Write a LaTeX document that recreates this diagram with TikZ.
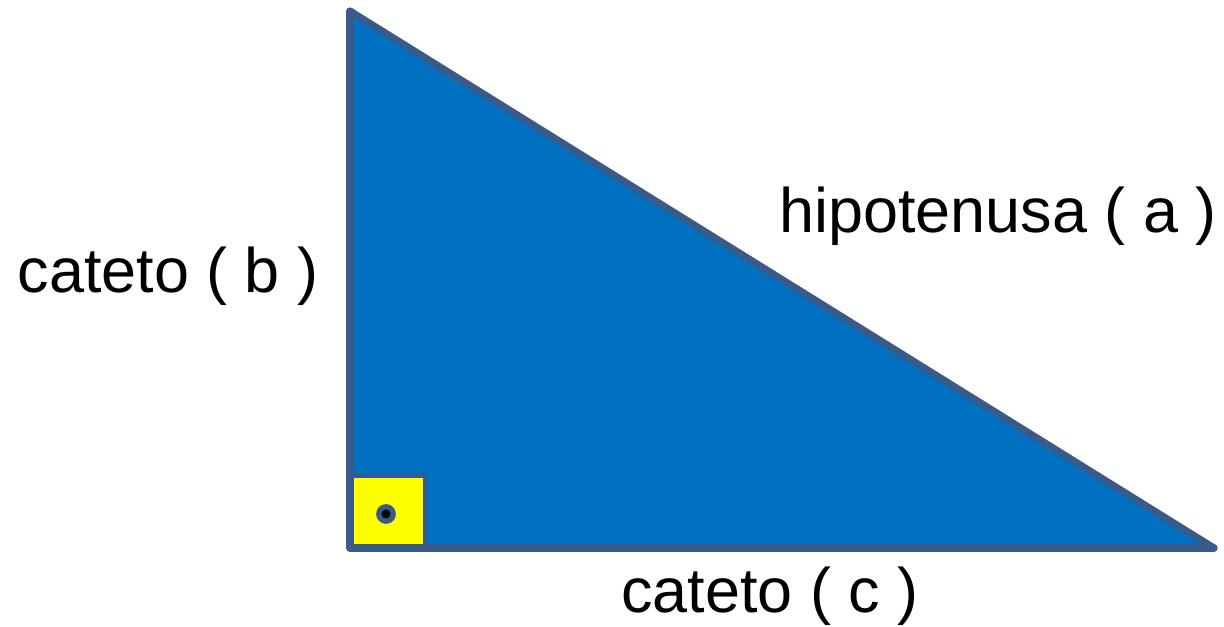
\documentclass[tikz,border=0pt]{standalone}
\usepackage{fontspec}
\setmainfont{Liberation Sans}
\definecolor{trifill}{HTML}{0070C0}
\definecolor{triline}{HTML}{3A5A8A}
\definecolor{angfill}{HTML}{FFFF00}
\begin{document}
\begin{tikzpicture}[line join=round, line cap=round,
	lbl/.style={anchor=base, inner sep=0pt, font=\fontsize{17.9}{21}\selectfont}]
				\useasboundingbox (0,0) rectangle (12.24,6.26);
				\path 
				(3.50,6.15) coordinate (A)
				(3.50,0.78) coordinate (B)
				(12.14,0.78) coordinate (C)
				(4.25,1.50) coordinate (S)
				(3.86,1.12) coordinate (O)
				;
				\draw[triline, fill=trifill, line width=2pt] (A)--(B)--(C)--cycle;
				\draw[triline, fill=angfill, line width=1.1pt] (B) rectangle (S);
				\draw[triline, fill=black, line width=1.5pt] (O) circle (0.072);
				\draw[triline, line width=2pt] (A)--(B)--(C);
				
				\node[lbl] (b) at (1.68,3.34) {cateto ( b )};
				\node[lbl] (a) at (9.98,3.94) {hipotenusa ( a )};
				\node[lbl] (c) at (7.70,0.14) {cateto ( c )};
			\end{tikzpicture}
\end{document}
